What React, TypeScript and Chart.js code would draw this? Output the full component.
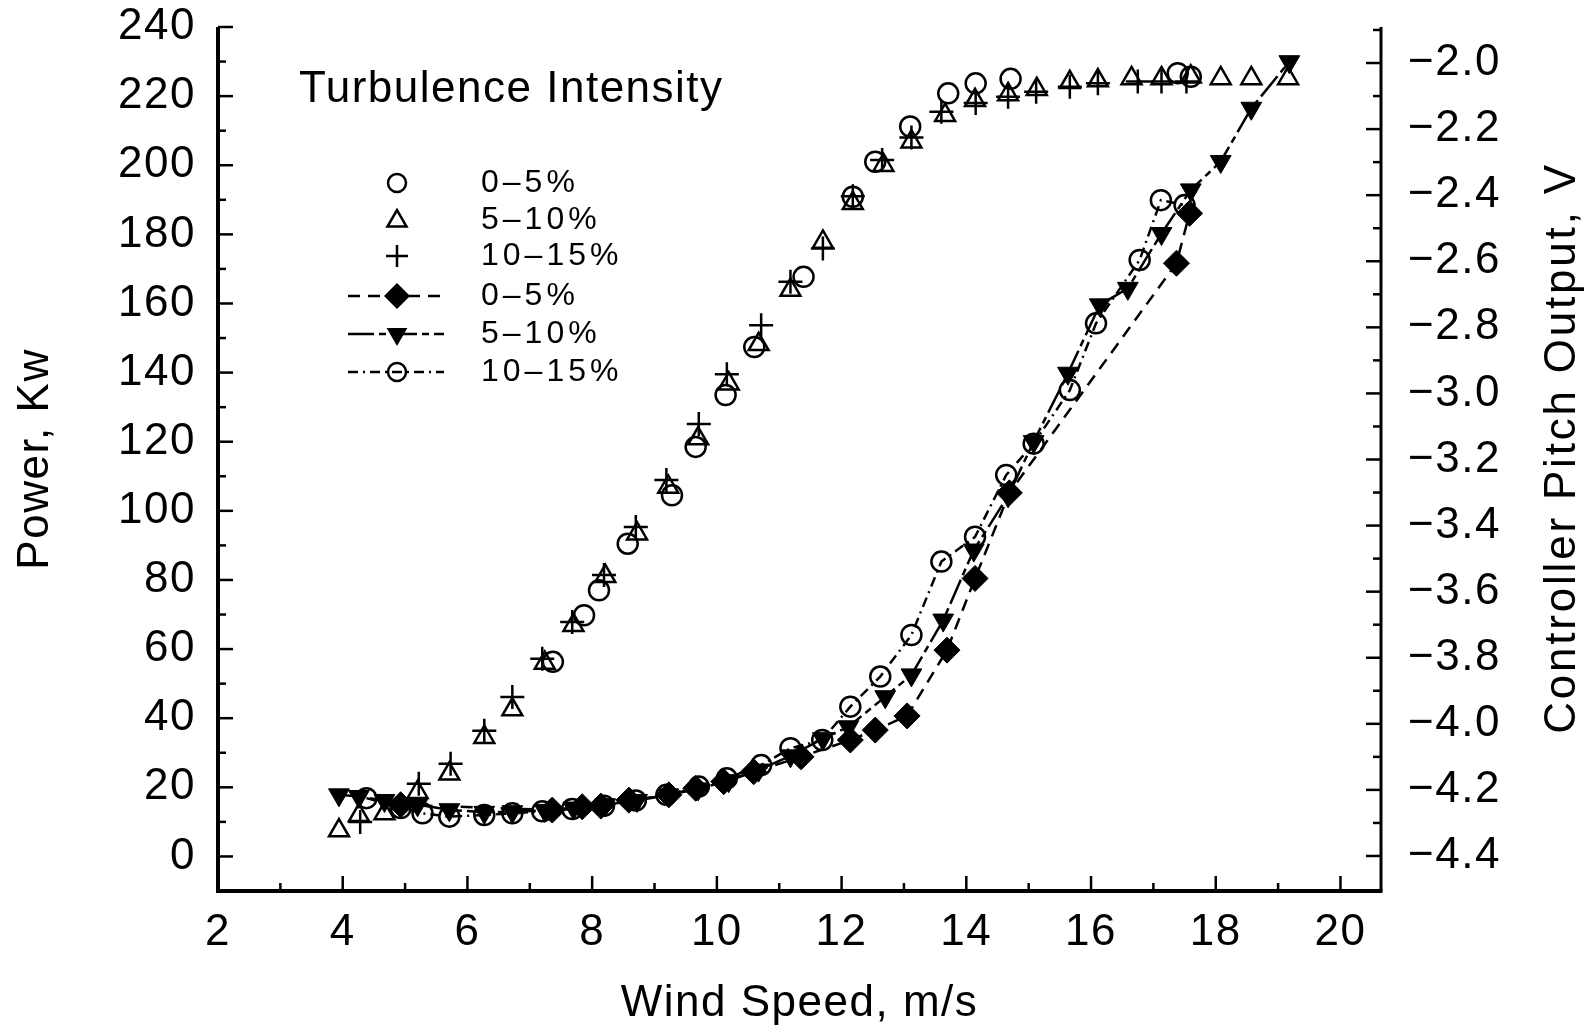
import React, { useEffect, useRef } from "react";
import { Chart, registerables } from "chart.js";

Chart.register(...registerables);

const FONT = '"Liberation Sans", Arial, sans-serif';

// Axis ticks
const X_TICKS = [2, 4, 6, 8, 10, 12, 14, 16, 18, 20];
const X_MINOR_TICKS = [3, 5, 7, 9, 11, 13, 15, 17, 19];
const POWER_TICKS = [0, 20, 40, 60, 80, 100, 120, 140, 160, 180, 200, 220, 240];
const POWER_MINOR_TICKS = [10, 30, 50, 70, 90, 110, 130, 150, 170, 190, 210, 230];
const PITCH_TICKS = [-4.4, -4.2, -4.0, -3.8, -3.6, -3.4, -3.2, -3.0, -2.8, -2.6, -2.4, -2.2, -2.0];
const PITCH_MINOR_TICKS = [-4.3, -4.1, -3.9, -3.7, -3.5, -3.3, -3.1, -2.9, -2.7, -2.5, -2.3, -2.1, -1.9];

const LEGEND_TITLE = "Turbulence Intensity";
const SERIES_LABELS = ["0–5%", "5–10%", "10–15%"];
const X_TITLE = "Wind Speed, m/s";
const Y_TITLE = "Power, Kw";
const Y1_TITLE = "Controller Pitch Output, V";

// Power, Kw (open markers) — turbulence 0-5 %
const POWER_05_WIND = [4.93, 7.37, 7.87, 8.11, 8.57, 9.28, 9.66, 10.14, 10.6, 11.39, 12.18, 12.54, 13.1, 13.71, 14.15, 14.71, 17.39, 17.6];
const POWER_05 = [14, 56.3, 69.8, 77, 90.5, 104.5, 118.5, 133.5, 147.4, 167.7, 190.9, 201, 211.2, 220.8, 223.7, 225, 226.6, 225.6];

// Power — turbulence 5-10 %
const POWER_510_WIND = [3.94, 4.26, 4.67, 5.2, 5.71, 6.27, 6.72, 7.24, 7.7, 8.21, 8.72, 9.22, 9.7, 10.19, 10.67, 11.18, 11.7, 12.18, 12.67, 13.12, 13.66, 14.14, 14.67, 15.13, 15.66, 16.11, 16.65, 17.13, 17.6, 18.08, 18.57, 19.16];
const POWER_510 = [7.5, 11.9, 12.4, 18.6, 23.9, 34.5, 42.5, 56, 66.9, 81.1, 93.4, 106.9, 120.9, 136.8, 148.2, 163.9, 177.8, 189, 200, 206.8, 214.5, 218.8, 220.5, 222, 224, 224.5, 225.1, 225.1, 225.6, 225.1, 225.1, 225.1];

// Power — turbulence 10-15 %
const POWER_1015_WIND = [4.28, 5.22, 5.73, 6.27, 6.72, 7.2, 7.68, 8.19, 8.7, 9.19, 9.71, 10.16, 10.71, 11.18, 11.7, 12.18, 12.65, 13.12, 13.6, 14.15, 14.67, 15.12, 15.66, 16.11, 16.75, 17.13, 17.53];
const POWER_1015 = [10, 21, 26.8, 36.4, 46.1, 57.2, 67.8, 81.4, 95.3, 108.9, 125.1, 139.5, 153.7, 166.3, 175.9, 191, 201.5, 208, 215.5, 218, 219.8, 221.3, 222.7, 223.7, 224.2, 224.2, 224.2];

// Controller pitch output, V — turbulence 0-5 %
const PITCH_05_WIND = [4.93, 7.36, 7.84, 8.14, 8.59, 9.23, 9.66, 10.11, 10.59, 11.35, 12.14, 12.54, 13.05, 13.69, 14.14, 14.69, 17.37, 17.58];
const PITCH_05 = [-4.245, -4.261, -4.251, -4.249, -4.231, -4.215, -4.195, -4.175, -4.145, -4.1, -4.049, -4.019, -3.976, -3.777, -3.56, -3.301, -2.606, -2.455];

// Pitch — turbulence 5-10 %
const PITCH_510_WIND = [3.94, 4.26, 4.67, 5.2, 5.71, 6.27, 6.72, 7.24, 7.7, 8.21, 8.72, 9.22, 9.7, 10.19, 10.67, 11.18, 11.7, 12.11, 12.7, 13.12, 13.63, 14.12, 14.67, 15.08, 15.63, 16.14, 16.59, 17.13, 17.6, 18.08, 18.57, 19.18];
const PITCH_510 = [-4.215, -4.22, -4.232, -4.245, -4.26, -4.268, -4.266, -4.262, -4.255, -4.245, -4.232, -4.215, -4.197, -4.172, -4.14, -4.097, -4.045, -4.009, -3.918, -3.852, -3.686, -3.474, -3.31, -3.146, -2.939, -2.732, -2.682, -2.516, -2.384, -2.298, -2.137, -1.996];

// Pitch — turbulence 10-15 %
const PITCH_1015_WIND = [4.38, 5.28, 5.71, 6.27, 6.72, 7.2, 7.68, 8.19, 8.7, 9.19, 9.71, 10.16, 10.71, 11.18, 11.69, 12.14, 12.62, 13.12, 13.6, 14.14, 14.64, 15.08, 15.66, 16.08, 16.78, 17.12, 17.5];
const PITCH_1015 = [-4.225, -4.271, -4.281, -4.276, -4.271, -4.265, -4.258, -4.248, -4.232, -4.215, -4.19, -4.165, -4.125, -4.074, -4.049, -3.948, -3.857, -3.731, -3.509, -3.434, -3.247, -3.152, -2.99, -2.788, -2.596, -2.415, -2.43];

const DASH_05 = [12, 8];
const DASH_510 = [26, 5, 7, 5];
const DASH_1015 = [10, 5, 2, 5];

const toPoints = (xs: number[], ys: number[]) => xs.map((x, i) => ({ x, y: ys[i] }));

function line(ctx: CanvasRenderingContext2D, x1: number, y1: number, x2: number, y2: number) {
  ctx.beginPath();
  ctx.moveTo(x1, y1);
  ctx.lineTo(x2, y2);
  ctx.stroke();
}

function drawMarker(ctx: CanvasRenderingContext2D, kind: string, x: number, y: number, r: number) {
  ctx.save();
  ctx.setLineDash([]);
  ctx.strokeStyle = "#000";
  ctx.fillStyle = "#000";
  ctx.lineWidth = 2.5;
  const s = Math.sin(Math.PI / 3);
  ctx.beginPath();
  if (kind === "circle") {
    ctx.arc(x, y, r, 0, Math.PI * 2);
    ctx.stroke();
  } else if (kind === "triangle") {
    ctx.moveTo(x, y - r);
    ctx.lineTo(x + r * s, y + r / 2);
    ctx.lineTo(x - r * s, y + r / 2);
    ctx.closePath();
    ctx.stroke();
  } else if (kind === "cross") {
    ctx.moveTo(x - r, y);
    ctx.lineTo(x + r, y);
    ctx.moveTo(x, y - r);
    ctx.lineTo(x, y + r);
    ctx.stroke();
  } else if (kind === "diamond") {
    ctx.moveTo(x - r, y);
    ctx.lineTo(x, y - r);
    ctx.lineTo(x + r, y);
    ctx.lineTo(x, y + r);
    ctx.closePath();
    ctx.fill();
  } else if (kind === "tridown") {
    ctx.moveTo(x, y + r);
    ctx.lineTo(x + r * s, y - r / 2);
    ctx.lineTo(x - r * s, y - r / 2);
    ctx.closePath();
    ctx.fill();
  }
  ctx.restore();
}

const framePlugin = {
  id: "frameAndText",
  beforeDraw(chart: any) {
    (chart.ctx as any).letterSpacing = "1.5px";
  },
  afterDatasetsDraw(chart: any) {
    const { ctx, chartArea, scales } = chart;
    const { left, right, top, bottom } = chartArea;
    ctx.save();
    ctx.setLineDash([]);
    ctx.strokeStyle = "#000";
    ctx.lineCap = "butt";
    ctx.lineWidth = 4;
    line(ctx, left, top, left, bottom + 2);
    line(ctx, left - 2, bottom, right + 1.5, bottom);
    ctx.lineWidth = 3;
    line(ctx, right, top, right, bottom);
    ctx.lineWidth = 2.5;
    POWER_TICKS.forEach((v) => {
      const y = scales.y.getPixelForValue(v);
      line(ctx, left, y, left + 15, y);
    });
    POWER_MINOR_TICKS.forEach((v) => {
      const y = scales.y.getPixelForValue(v);
      line(ctx, left, y, left + 8, y);
    });
    PITCH_TICKS.forEach((v) => {
      const y = scales.y1.getPixelForValue(v);
      line(ctx, right, y, right - 15, y);
    });
    PITCH_MINOR_TICKS.forEach((v) => {
      const y = scales.y1.getPixelForValue(v);
      line(ctx, right, y, right - 8, y);
    });
    X_TICKS.forEach((v) => {
      const x = scales.x.getPixelForValue(v);
      line(ctx, x, bottom, x, bottom - 15);
    });
    X_MINOR_TICKS.forEach((v) => {
      const x = scales.x.getPixelForValue(v);
      line(ctx, x, bottom, x, bottom - 8);
    });
    ctx.restore();
  },
  afterDraw(chart: any) {
    const { ctx, chartArea } = chart;
    ctx.save();
    (ctx as any).letterSpacing = "1.5px";
    ctx.fillStyle = "#000";
    ctx.font = `44px ${FONT}`;
    ctx.textBaseline = "middle";
    ctx.textAlign = "center";
    // axis titles
    ctx.fillText(X_TITLE, (chartArea.left + chartArea.right) / 2, 1004);
    ctx.save();
    ctx.translate(36, (chartArea.top + chartArea.bottom) / 2);
    ctx.rotate(-Math.PI / 2);
    ctx.fillText(Y_TITLE, 0, 0);
    ctx.restore();
    ctx.save();
    (ctx as any).letterSpacing = "2.8px";
    ctx.translate(1563, 448);
    ctx.rotate(-Math.PI / 2);
    ctx.fillText(Y1_TITLE, 0, 0);
    ctx.restore();

    // legend
    ctx.textAlign = "left";
    ctx.fillText(LEGEND_TITLE, 299, 90);
    const rows = [183, 220, 256, 296, 334, 372];
    const mx = 397;
    drawMarker(ctx, "circle", mx, rows[0], 9);
    drawMarker(ctx, "triangle", mx, rows[1] + 1, 11);
    drawMarker(ctx, "cross", mx, rows[2], 11);
    const dashes = [DASH_05, DASH_510, DASH_1015];
    const kinds = ["diamond", "tridown", "circle"];
    const sizes = [13, 12, 9];
    for (let i = 0; i < 3; i++) {
      const y = rows[3 + i];
      ctx.save();
      ctx.strokeStyle = "#000";
      ctx.lineWidth = 2.5;
      ctx.setLineDash(dashes[i]);
      line(ctx, 348, y, 444, y);
      ctx.restore();
      drawMarker(ctx, kinds[i], mx, y, sizes[i]);
    }
    ctx.font = `32px ${FONT}`;
    (ctx as any).letterSpacing = "4px";
    for (let i = 0; i < 6; i++) {
      ctx.fillText(SERIES_LABELS[i % 3], 481, rows[i]);
    }
    ctx.restore();
  },
};

const zeroPad = (s: any) => {
  s.paddingTop = 0;
  s.paddingBottom = 0;
  s.paddingLeft = 0;
  s.paddingRight = 0;
};

export default function App() {
  const canvasRef = useRef<HTMLCanvasElement | null>(null);

  useEffect(() => {
    document.body.style.margin = "0";
    const canvas = canvasRef.current;
    if (!canvas) return;
    const tickFont = { family: FONT, size: 44 };

    const chart = new Chart(canvas, {
      type: "scatter",
      data: {
        datasets: [
          {
            label: "Power 0–5%",
            data: toPoints(POWER_05_WIND, POWER_05),
            yAxisID: "y",
            showLine: false,
            pointStyle: "circle",
            pointRadius: 10,
            pointBorderWidth: 2.5,
            pointBorderColor: "#000",
            pointBackgroundColor: "rgba(0,0,0,0)",
          },
          {
            label: "Power 5–10%",
            data: toPoints(POWER_510_WIND, POWER_510),
            yAxisID: "y",
            showLine: false,
            pointStyle: "triangle",
            pointRadius: 11.5,
            pointBorderWidth: 2.5,
            pointBorderColor: "#000",
            pointBackgroundColor: "rgba(0,0,0,0)",
          },
          {
            label: "Power 10–15%",
            data: toPoints(POWER_1015_WIND, POWER_1015),
            yAxisID: "y",
            showLine: false,
            pointStyle: "cross",
            pointRadius: 12,
            pointBorderWidth: 2.5,
            pointBorderColor: "#000",
            pointBackgroundColor: "rgba(0,0,0,0)",
          },
          {
            label: "Pitch 0–5%",
            data: toPoints(PITCH_05_WIND, PITCH_05),
            yAxisID: "y1",
            showLine: true,
            borderColor: "#000",
            borderWidth: 2.5,
            borderDash: DASH_05,
            pointStyle: "rectRot",
            pointRadius: 13,
            pointBorderWidth: 1,
            pointBorderColor: "#000",
            pointBackgroundColor: "#000",
          },
          {
            label: "Pitch 5–10%",
            data: toPoints(PITCH_510_WIND, PITCH_510),
            yAxisID: "y1",
            showLine: true,
            borderColor: "#000",
            borderWidth: 2.5,
            borderDash: DASH_510,
            pointStyle: "triangle",
            pointRotation: 180,
            pointRadius: 12,
            pointBorderWidth: 1,
            pointBorderColor: "#000",
            pointBackgroundColor: "#000",
          },
          {
            label: "Pitch 10–15%",
            data: toPoints(PITCH_1015_WIND, PITCH_1015),
            yAxisID: "y1",
            showLine: true,
            borderColor: "#000",
            borderWidth: 2.5,
            borderDash: DASH_1015,
            pointStyle: "circle",
            pointRadius: 10,
            pointBorderWidth: 2.5,
            pointBorderColor: "#000",
            pointBackgroundColor: "rgba(0,0,0,0)",
          },
        ],
      },
      options: {
        responsive: false,
        animation: false,
        devicePixelRatio: 1,
        events: [],
        layout: { padding: { top: 27, left: 0, right: 0, bottom: 0 } },
        plugins: { legend: { display: false }, tooltip: { enabled: false } },
        scales: {
          x: {
            type: "linear",
            position: "bottom",
            min: 2,
            max: 20.65,
            grid: { display: false, drawTicks: false },
            border: { display: false },
            ticks: {
              font: tickFont,
              color: "#000",
              padding: 15,
              maxRotation: 0,
              autoSkip: false,
              callback: (v: any) => String(v),
            },
            afterBuildTicks: (s: any) => {
              s.ticks = X_TICKS.map((v) => ({ value: v }));
            },
            afterFit: (s: any) => {
              s.height = 143;
              zeroPad(s);
            },
          },
          y: {
            type: "linear",
            position: "left",
            min: -10,
            max: 240,
            grid: { display: false, drawTicks: false },
            border: { display: false },
            ticks: {
              font: tickFont,
              color: "#000",
              padding: 22,
              autoSkip: false,
              callback: (v: any) => String(v),
            },
            afterBuildTicks: (s: any) => {
              s.ticks = POWER_TICKS.map((v) => ({ value: v }));
            },
            afterFit: (s: any) => {
              s.width = 218;
              zeroPad(s);
            },
          },
          y1: {
            type: "linear",
            position: "right",
            min: -4.506,
            max: -1.891,
            grid: { display: false, drawTicks: false },
            border: { display: false },
            ticks: {
              font: tickFont,
              color: "#000",
              padding: 27,
              autoSkip: false,
              callback: (v: any) => "\u2212" + Math.abs(Number(v)).toFixed(1),
            },
            afterBuildTicks: (s: any) => {
              s.ticks = PITCH_TICKS.map((v) => ({ value: v }));
            },
            afterFit: (s: any) => {
              s.width = 211;
              zeroPad(s);
            },
          },
        },
      },
      plugins: [framePlugin],
    } as any);

    return () => {
      chart.destroy();
    };
  }, []);

  return (
    <canvas
      ref={canvasRef}
      width={1592}
      height={1034}
      style={{ display: "block", width: 1592, height: 1034 }}
    />
  );
}
